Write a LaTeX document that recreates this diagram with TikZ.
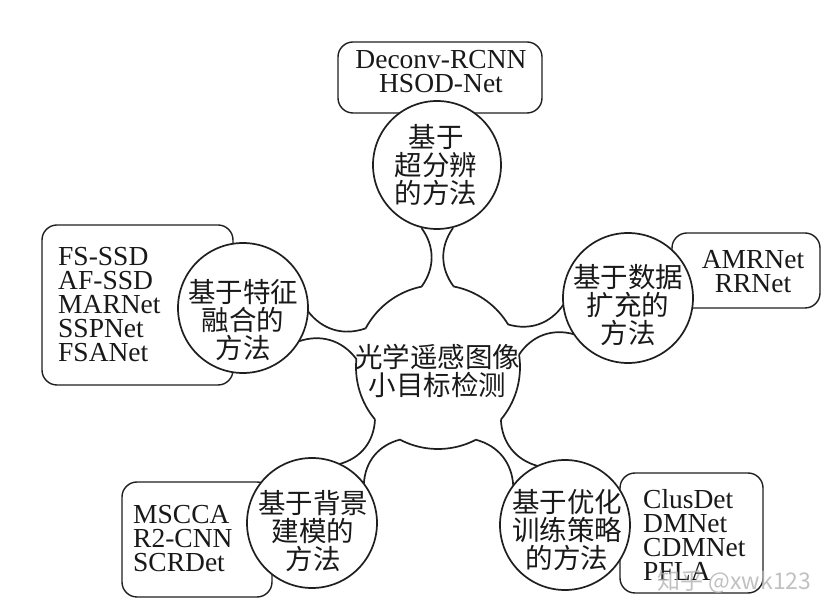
\documentclass[tikz,border=0pt]{standalone}
\usepackage{fontspec}
\setmainfont{Liberation Serif}
\newfontfamily\cjk{Noto Sans CJK SC}
\usetikzlibrary{calc}
\newcommand\drawneck[2]{%
  \fill[white] ($(#1)!82pt!11.3:(#2)$) to[bend right=36] ($(#2)!65pt!-14:(#1)$)
     -- ($(#2)!65pt!14:(#1)$) to[bend right=36] ($(#1)!82pt!-11.3:(#2)$)
     -- ($(#1)!55pt!(#2)$) -- cycle;
  \draw[neckline] ($(#1)!82pt!11.3:(#2)$) to[bend right=36] ($(#2)!65pt!-14:(#1)$);
  \draw[neckline] ($(#2)!65pt!14:(#1)$) to[bend right=36] ($(#1)!82pt!-11.3:(#2)$);
}
\begin{document}
\begin{tikzpicture}[x=1pt,y=1pt,
  ink/.style={draw=black!88},
  neckline/.style={ink, line width=1.7pt},
  bubble/.style={circle, ink, line width=1.7pt, fill=white, minimum size=130pt, inner sep=0pt},
  hubstyle/.style={circle, ink, line width=1.7pt, fill=white, minimum size=164pt, inner sep=0pt},
  listbox/.style={rectangle, ink, rounded corners=15pt, fill=white, line width=1.4pt, inner sep=0pt},
  cjktext/.style={font=\cjk\fontsize{27.5}{28}\selectfont, align=center, inner sep=0pt, text=black!90},
  latintext/.style={font=\fontsize{27.5}{24}\selectfont, inner sep=0pt, text=black!90},
]
\useasboundingbox (0,0) rectangle (839,616);

% list boxes
\node[listbox, minimum width=204pt, minimum height=71pt]  (boxT)  at (440,538.5) {};
\node[listbox, minimum width=191pt, minimum height=160pt] (boxL)  at (137.5,311) {};
\node[listbox, minimum width=148pt, minimum height=75pt]  (boxR)  at (746,345.5) {};
\node[listbox, minimum width=150pt, minimum height=115pt] (boxBL) at (197,76.5) {};
\node[listbox, minimum width=143pt, minimum height=120pt] (boxBR) at (691.5,83) {};

% centres
\coordinate (hc)  at (438,249);
\coordinate (tc)  at (437,451);
\coordinate (lc)  at (243,308);
\coordinate (rc)  at (628,318);
\coordinate (blc) at (312,93);
\coordinate (brc) at (565,91);

% hub
\node[hubstyle] (hub) at (hc) {};

% necks
\drawneck{hc}{tc}
\drawneck{hc}{lc}
\drawneck{hc}{rc}
\drawneck{hc}{blc}
\drawneck{hc}{brc}

% satellites
\node[bubble, minimum size=128pt] (top) at (tc) {};
\node[bubble] (left)  at (lc)  {};
\node[bubble] (right) at (rc)  {};
\node[bubble] (bl)    at (blc) {};
\node[bubble] (br)    at (brc) {};

% texts
\node[cjktext] (hubtext) at (437.5,245) {光学遥感图像\\小目标检测};
\node[cjktext] (toptext) at (436,451) {基于\\超分辨\\的方法};
\node[cjktext] (lefttext) at (243,296) {基于特征\\融合的\\方法};
\node[cjktext] (righttext) at (628,311) {基于数据\\扩充的\\方法};
\node[cjktext] (bltext) at (313,85) {基于背景\\建模的\\方法};
\node[cjktext] (brtext) at (567,86) {基于优化\\训练策略\\的方法};

\node[latintext, align=center] (tlist) at (441,544) {Deconv-RCNN\\HSOD-Net};
\node[latintext, align=left, anchor=west] (llist) at (58,311) {FS-SSD\\AF-SSD\\MARNet\\SSPNet\\FSANet};
\node[latintext, align=center] (rlist) at (753,344.5) {AMRNet\\RRNet};
\node[latintext, align=left, anchor=west] (bllist) at (133,77.5) {MSCCA\\R2-CNN\\SCRDet};
\node[latintext, align=left, anchor=west] (brlist) at (643,81) {ClusDet\\DMNet\\CDMNet\\PFLA};

% watermark
\node[font=\cjk\fontsize{23}{23}\selectfont, text=black!30, opacity=0.8, inner sep=0pt] (mark) at (734.5,34) {知乎 @xwk123};
\end{tikzpicture}
\end{document}
